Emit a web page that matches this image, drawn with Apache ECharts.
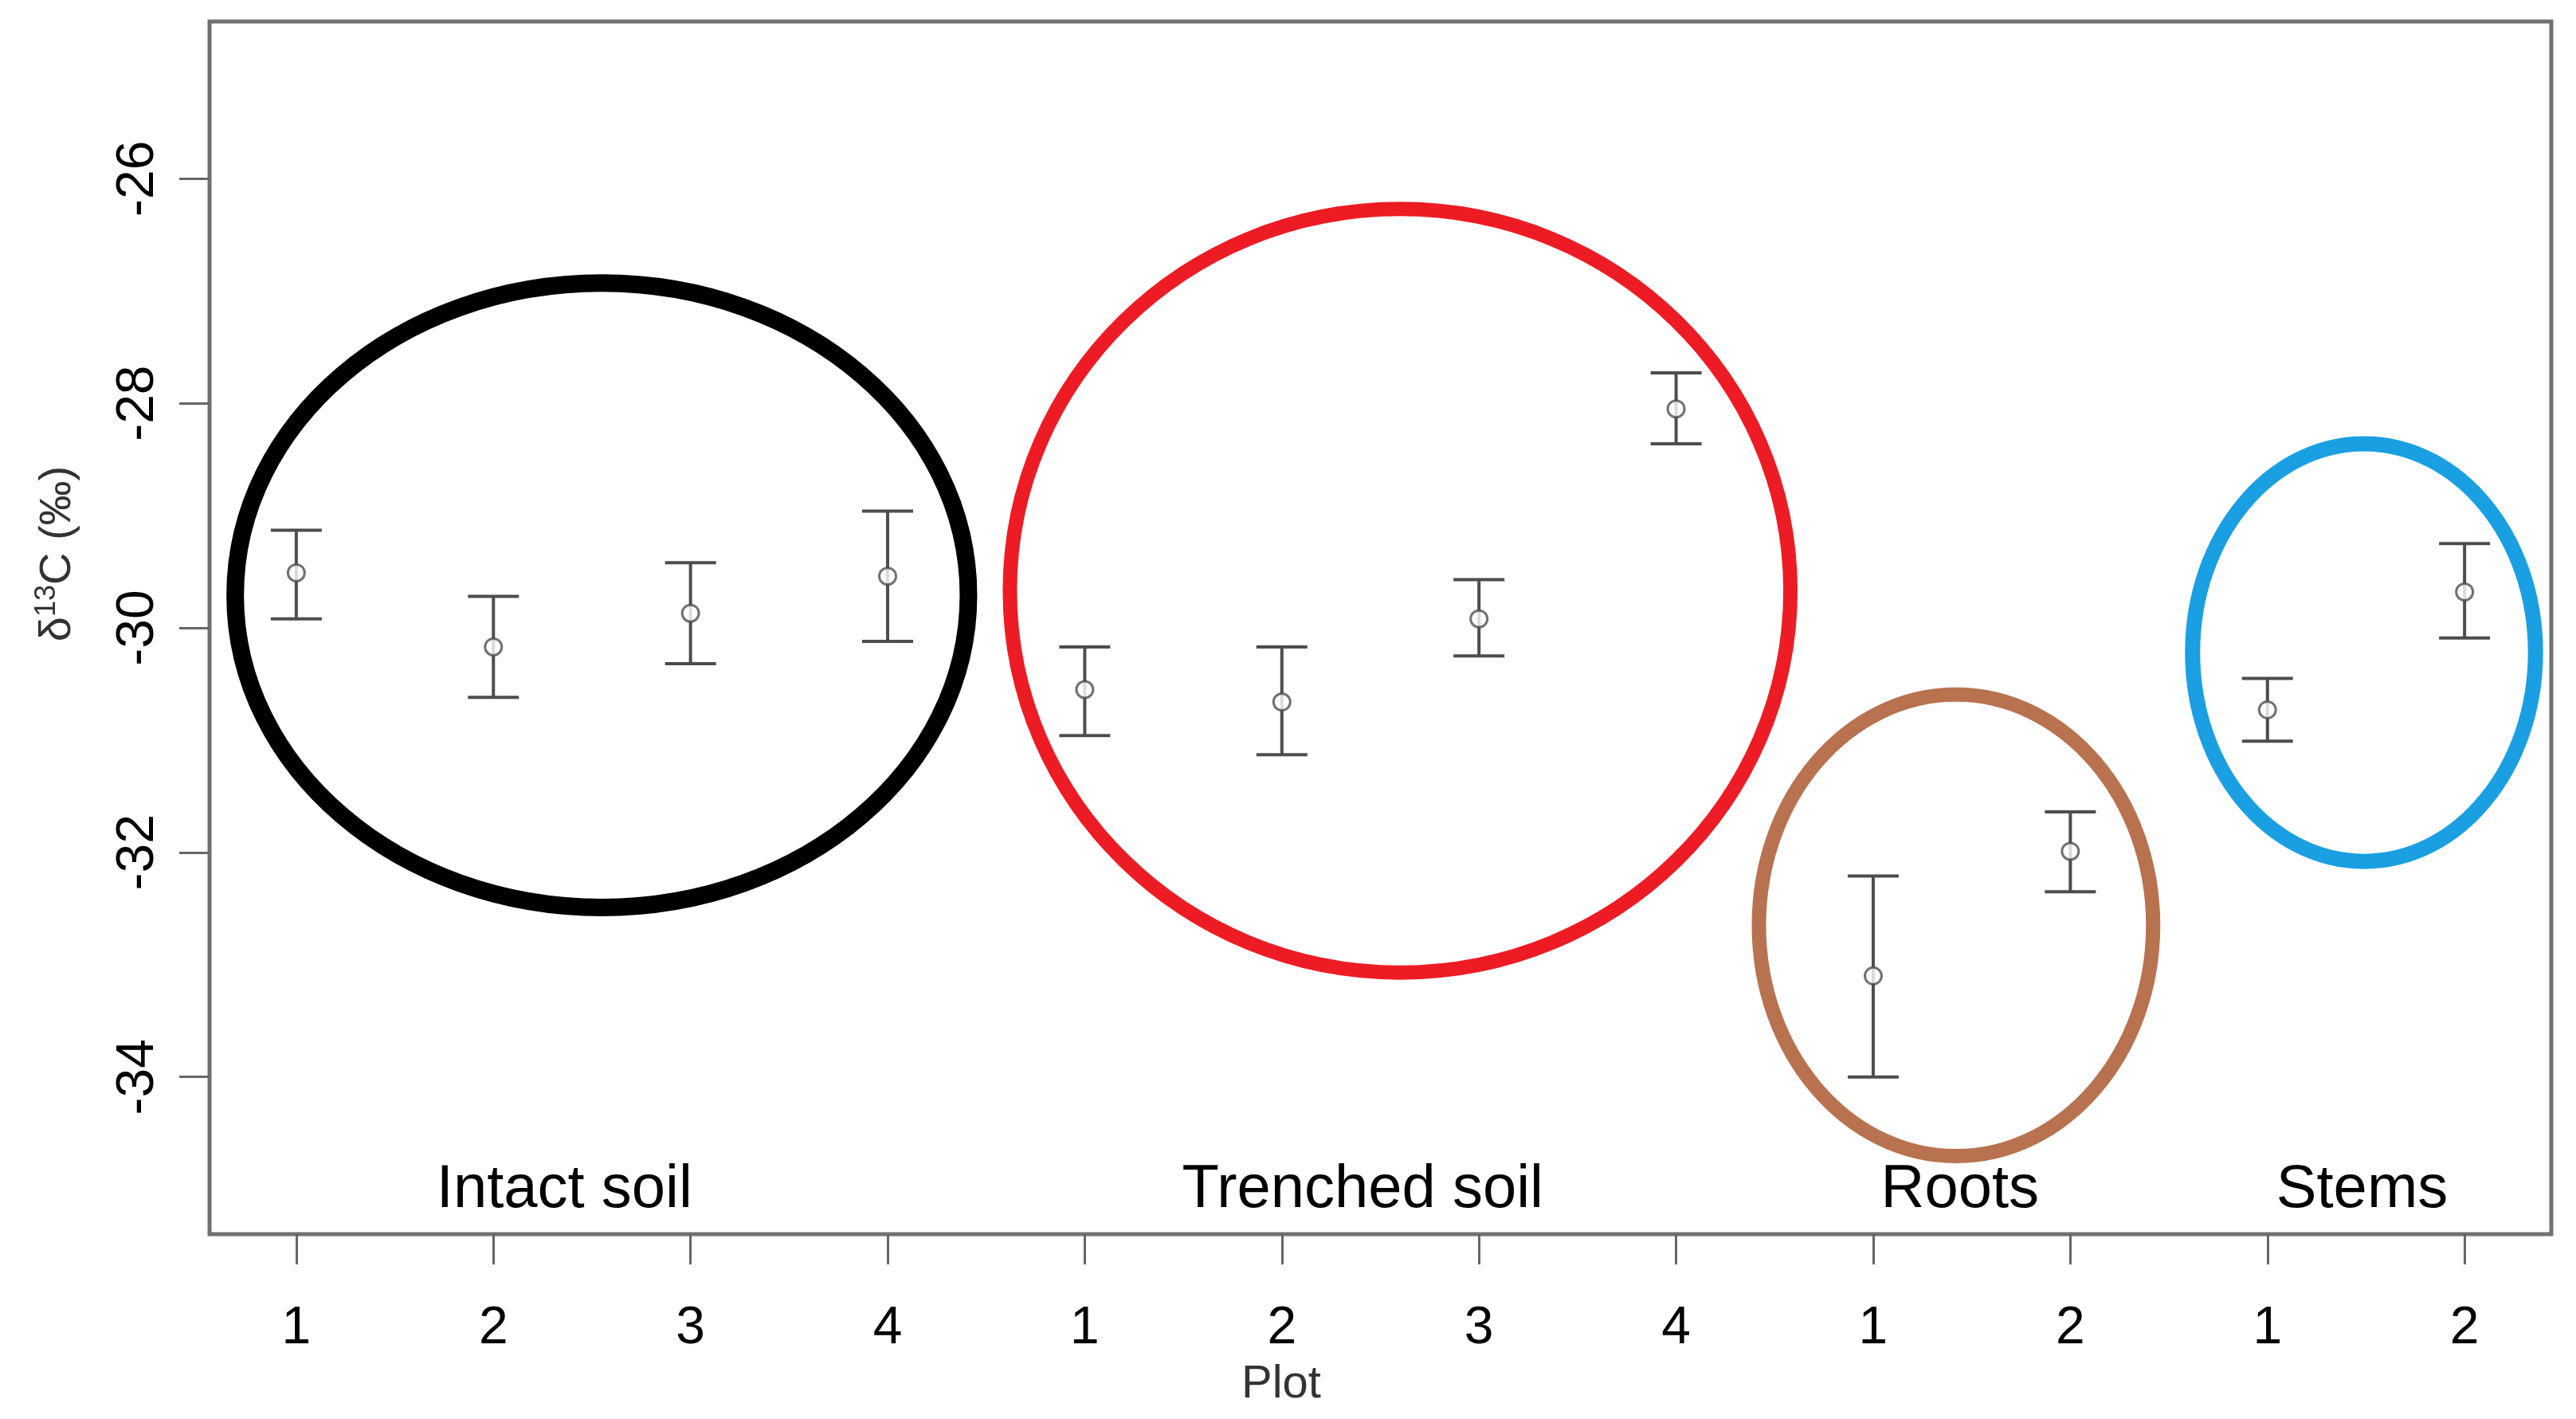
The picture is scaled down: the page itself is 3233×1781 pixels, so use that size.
<!DOCTYPE html>
<html>
<head>
<meta charset="utf-8">
<title>δ13C by plot</title>
<script src="https://cdn.jsdelivr.net/npm/echarts@6/dist/echarts.min.js"></script>
<style>
  html, body { margin: 0; padding: 0; background: #fff; }
  #chart { width: 3233px; height: 1781px; }
</style>
</head>
<body>
<div id="chart"></div>
<script>
// x positions 1..12, with the plot number printed under each one
const plotPos = [1, 2, 3, 4, 5, 6, 7, 8, 9, 10, 11, 12]
const plotLabels = ['1', '2', '3', '4', '1', '2', '3', '4', '1', '2', '1', '2']

// δ13C mean and error bar ends (‰)
const meanValues  = [-29.51, -30.17, -29.87, -29.54, -30.55, -30.66, -29.92, -28.05, -33.10, -31.99, -30.73, -29.68]
const lowerValues = [-29.92, -30.62, -30.32, -30.12, -30.96, -31.13, -30.25, -28.36, -34.00, -32.35, -31.01, -30.09]
const upperValues = [-29.13, -29.72, -29.42, -28.96, -30.17, -30.17, -29.57, -27.73, -32.21, -31.64, -30.45, -29.25]

const yTicks = [-34, -32, -30, -28, -26]

// groups: text label and the ring drawn round each group (axis units)
const groupNames = ['Intact soil', 'Trenched soil', 'Roots', 'Stems']
const groupLabelX = [2.36, 6.41, 9.44, 11.48]
const groupLabelY = [-35.01, -35.01, -35.01, -35.01]
const ringCx = [2.55, 6.60, 9.42, 11.49]
const ringCy = [-29.71, -29.67, -32.65, -30.22]
const ringRx = [1.86, 1.98, 1.00, 0.87]
const ringRy = [2.78, 3.40, 2.055, 1.86]

const ringColors = ['#000000', '#ed1c24', '#b87250', '#1a9fe2']
const ringWidths = [22, 18, 18, 19]
const FONT = '"Liberation Sans", Arial, sans-serif'

const chart = echarts.init(document.getElementById('chart'))

const option = {
  animation: false,
  backgroundColor: '#fff',
  grid: {
    left: 263, top: 27, width: 2939, height: 1522,
    show: true, borderColor: '#707070', borderWidth: 5, backgroundColor: 'transparent'
  },
  xAxis: {
    type: 'value', min: 0.56, max: 12.44,
    axisLine: { show: false },
    splitLine: { show: false },
    axisTick: { show: true, customValues: plotPos, length: 38, lineStyle: { color: '#666', width: 3 } },
    axisLabel: {
      customValues: plotPos, margin: 86,
      fontSize: 66, fontFamily: FONT, color: '#000',
      formatter: v => plotLabels[Math.round(v) - 1]
    }
  },
  yAxis: {
    type: 'value', min: -35.4, max: -24.6,
    axisLine: { show: false },
    splitLine: { show: false },
    axisTick: { show: true, customValues: yTicks, length: 38, lineStyle: { color: '#666', width: 3 } },
    axisLabel: {
      customValues: yTicks, rotate: 90, margin: 56,
      fontSize: 66, fontFamily: FONT, color: '#000'
    }
  },
  graphic: [
    {
      type: 'text', x: 1608, y: 1738,
      style: { text: 'Plot', fontSize: 58, fontFamily: FONT, fill: '#333', align: 'center', verticalAlign: 'middle' }
    },
    {
      type: 'text', x: 73, y: 695, rotation: Math.PI / 2,
      style: {
        text: '{m|δ}{s|13}{m|C (‰)}',
        align: 'center', verticalAlign: 'middle',
        rich: {
          m: { fontSize: 56, fontFamily: FONT, fill: '#333', lineHeight: 64 },
          s: { fontSize: 36, fontFamily: FONT, fill: '#333', lineHeight: 40, verticalAlign: 'top' }
        }
      }
    }
  ],
  series: [
    {
      name: 'rings',
      type: 'custom',
      clip: false,
      data: ringCx.map((cx, i) => [cx, ringCy[i], ringRx[i], ringRy[i]]),
      encode: { x: 0, y: 1 },
      renderItem: (params, api) => {
        const c = api.coord([api.value(0), api.value(1)])
        const s = api.size([api.value(2), api.value(3)])
        return {
          type: 'ellipse',
          shape: { cx: c[0], cy: c[1], rx: s[0], ry: s[1] },
          style: { fill: 'none', stroke: ringColors[params.dataIndex], lineWidth: ringWidths[params.dataIndex] }
        }
      },
      z: 1
    },
    {
      name: 'error bars',
      type: 'custom',
      data: plotPos.map((x, i) => [x, lowerValues[i], upperValues[i]]),
      encode: { x: 0, y: [1, 2] },
      renderItem: (params, api) => {
        const top = api.coord([api.value(0), api.value(2)])
        const bot = api.coord([api.value(0), api.value(1)])
        const w = 32
        const st = { stroke: '#4d4d4d', lineWidth: 4 }
        return {
          type: 'group',
          children: [
            { type: 'line', shape: { x1: top[0], y1: top[1], x2: bot[0], y2: bot[1] }, style: st },
            { type: 'line', shape: { x1: top[0] - w, y1: top[1], x2: top[0] + w, y2: top[1] }, style: st },
            { type: 'line', shape: { x1: bot[0] - w, y1: bot[1], x2: bot[0] + w, y2: bot[1] }, style: st }
          ]
        }
      },
      z: 2
    },
    {
      name: 'mean',
      type: 'scatter',
      data: plotPos.map((x, i) => [x, meanValues[i]]),
      symbol: 'circle',
      symbolSize: 21,
      itemStyle: { color: '#fff', borderColor: '#4d4d4d', borderWidth: 3 },
      z: 3
    },
    {
      name: 'group labels',
      type: 'custom',
      data: groupNames.map((n, i) => [groupLabelX[i], groupLabelY[i]]),
      encode: { x: 0, y: 1 },
      renderItem: (params, api) => {
        const p = api.coord([api.value(0), api.value(1)])
        return {
          type: 'text',
          x: p[0], y: p[1],
          style: {
            text: groupNames[params.dataIndex],
            fontSize: 76, fontFamily: FONT, fill: '#000',
            align: 'center', verticalAlign: 'middle'
          }
        }
      },
      z: 4
    }
  ]
}

chart.setOption(option)
</script>
</body>
</html>
